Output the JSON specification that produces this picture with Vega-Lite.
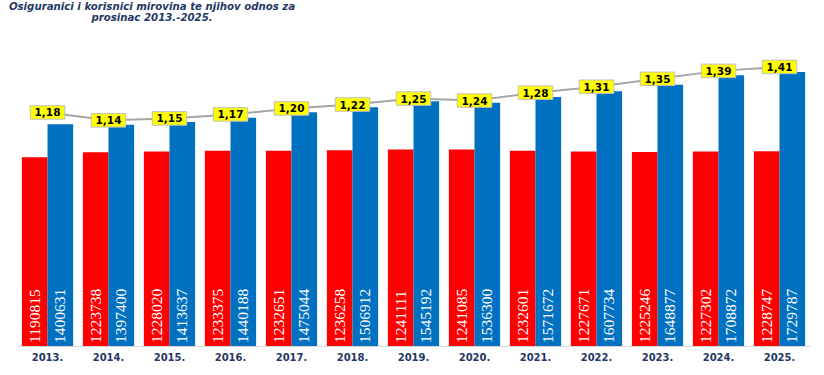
{
  "$schema": "https://vega.github.io/schema/vega-lite/v6.json",
  "width": 793,
  "height": 306,
  "autosize": {"type": "none"},
  "padding": {"left": 17, "top": 40, "right": 14, "bottom": 29},
  "background": "white",
  "title": {
    "text": ["Osiguranici i korisnici mirovina te njihov odnos za", "prosinac 2013.-2025."],
    "anchor": "start",
    "frame": "group",
    "align": "center",
    "dx": 135,
    "offset": 17,
    "font": "DejaVu Sans",
    "fontSize": 10.2,
    "fontWeight": "bold",
    "fontStyle": "italic",
    "lineHeight": 11,
    "color": "#1f3864"
  },
  "config": {"view": {"stroke": null}},
  "datasets": {
    "bars": [
      {"year": "2013.", "series": "Osiguranici", "value": 1190815},
      {"year": "2013.", "series": "Korisnici", "value": 1400631},
      {"year": "2014.", "series": "Osiguranici", "value": 1223738},
      {"year": "2014.", "series": "Korisnici", "value": 1397400},
      {"year": "2015.", "series": "Osiguranici", "value": 1228020},
      {"year": "2015.", "series": "Korisnici", "value": 1413637},
      {"year": "2016.", "series": "Osiguranici", "value": 1233375},
      {"year": "2016.", "series": "Korisnici", "value": 1440188},
      {"year": "2017.", "series": "Osiguranici", "value": 1232651},
      {"year": "2017.", "series": "Korisnici", "value": 1475044},
      {"year": "2018.", "series": "Osiguranici", "value": 1236258},
      {"year": "2018.", "series": "Korisnici", "value": 1506912},
      {"year": "2019.", "series": "Osiguranici", "value": 1241111},
      {"year": "2019.", "series": "Korisnici", "value": 1545192},
      {"year": "2020.", "series": "Osiguranici", "value": 1241085},
      {"year": "2020.", "series": "Korisnici", "value": 1536300},
      {"year": "2021.", "series": "Osiguranici", "value": 1232601},
      {"year": "2021.", "series": "Korisnici", "value": 1571672},
      {"year": "2022.", "series": "Osiguranici", "value": 1227671},
      {"year": "2022.", "series": "Korisnici", "value": 1607734},
      {"year": "2023.", "series": "Osiguranici", "value": 1225246},
      {"year": "2023.", "series": "Korisnici", "value": 1648877},
      {"year": "2024.", "series": "Osiguranici", "value": 1227302},
      {"year": "2024.", "series": "Korisnici", "value": 1708872},
      {"year": "2025.", "series": "Osiguranici", "value": 1228747},
      {"year": "2025.", "series": "Korisnici", "value": 1729787}
    ],
    "ratio": [
      {"year": "2013.", "ratio": 1.18, "label": "1,18"},
      {"year": "2014.", "ratio": 1.14, "label": "1,14"},
      {"year": "2015.", "ratio": 1.15, "label": "1,15"},
      {"year": "2016.", "ratio": 1.17, "label": "1,17"},
      {"year": "2017.", "ratio": 1.20, "label": "1,20"},
      {"year": "2018.", "ratio": 1.22, "label": "1,22"},
      {"year": "2019.", "ratio": 1.25, "label": "1,25"},
      {"year": "2020.", "ratio": 1.24, "label": "1,24"},
      {"year": "2021.", "ratio": 1.28, "label": "1,28"},
      {"year": "2022.", "ratio": 1.31, "label": "1,31"},
      {"year": "2023.", "ratio": 1.35, "label": "1,35"},
      {"year": "2024.", "ratio": 1.39, "label": "1,39"},
      {"year": "2025.", "ratio": 1.41, "label": "1,41"}
    ]
  },
  "encoding": {
    "x": {
      "field": "year",
      "type": "nominal",
      "scale": {"paddingInner": 0.16, "paddingOuter": 0.08},
      "axis": {
        "title": null,
        "labelAngle": 0,
        "ticks": false,
        "domainColor": "#d9d9d9",
        "domainWidth": 1,
        "labelPadding": 6,
        "labelFont": "DejaVu Sans",
        "labelFontSize": 10,
        "labelFontWeight": "bold",
        "labelColor": "#1f3864"
      }
    }
  },
  "layer": [
    {
      "data": {"name": "bars"},
      "mark": {"type": "bar"},
      "encoding": {
        "xOffset": {"field": "series", "type": "nominal", "scale": {"domain": ["Osiguranici", "Korisnici"], "paddingInner": 0, "paddingOuter": 0}},
        "y": {"field": "value", "type": "quantitative", "scale": {"domain": [0, 1931800]}, "axis": null},
        "color": {"field": "series", "type": "nominal", "scale": {"domain": ["Osiguranici", "Korisnici"], "range": ["#ff0000", "#0070c0"]}, "legend": null}
      }
    },
    {
      "data": {"name": "bars"},
      "mark": {"type": "text", "angle": 270, "align": "left", "baseline": "middle", "dx": 3, "color": "white", "font": "Liberation Sans Narrow", "fontSize": 15.5},
      "encoding": {
        "xOffset": {"field": "series", "type": "nominal", "scale": {"domain": ["Osiguranici", "Korisnici"], "paddingInner": 0, "paddingOuter": 0}},
        "y": {"datum": 0, "type": "quantitative", "scale": {"domain": [0, 1931800]}, "axis": null},
        "text": {"field": "value", "type": "nominal"}
      }
    },
    {
      "data": {"name": "ratio"},
      "mark": {"type": "line", "color": "#a6a6a6", "strokeWidth": 2},
      "encoding": {
        "y": {"field": "ratio", "type": "quantitative", "scale": {"domain": [0, 1.546]}, "axis": null}
      }
    },
    {
      "data": {"name": "ratio"},
      "mark": {"type": "point", "shape": "M-1.15,-0.45H1.15V0.45H-1.15Z", "size": 900, "filled": true, "fill": "#ffff00", "stroke": "#bfbfbf", "strokeWidth": 1, "opacity": 1},
      "encoding": {
        "y": {"field": "ratio", "type": "quantitative", "scale": {"domain": [0, 1.546]}, "axis": null}
      }
    },
    {
      "data": {"name": "ratio"},
      "mark": {"type": "text", "font": "DejaVu Sans", "fontWeight": "bold", "fontSize": 10.5, "color": "black", "baseline": "middle", "dy": 1},
      "encoding": {
        "y": {"field": "ratio", "type": "quantitative", "scale": {"domain": [0, 1.546]}, "axis": null},
        "text": {"field": "label", "type": "nominal"}
      }
    }
  ],
  "resolve": {"scale": {"y": "independent"}}
}
